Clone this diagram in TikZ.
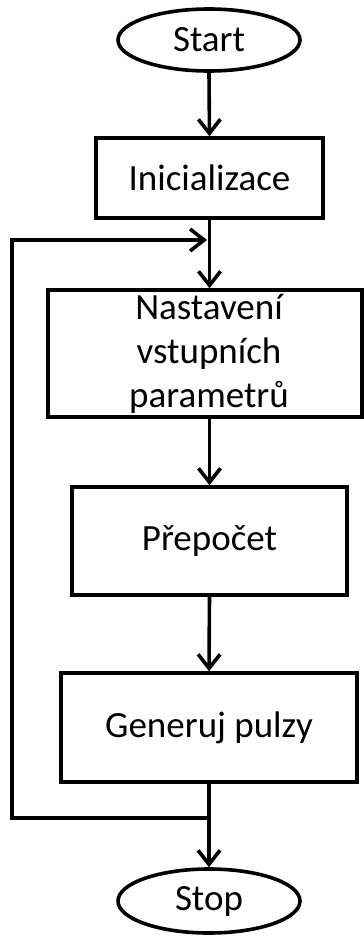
\documentclass[tikz,border=0pt]{standalone}
\usepackage{fontspec}
\setmainfont{Carlito}
\usetikzlibrary{shapes.geometric,arrows.meta}
\begin{document}
\begin{tikzpicture}[x=1pt,y=-1pt,
  flowline/.style={line width=3.6pt},
  arrowline/.style={flowline,-{Straight Barb[length=14pt,width=22pt,line width=3.6pt]}},
  terminal/.style={ellipse,draw,line width=3.6pt,inner sep=0pt,
    minimum width=182pt,minimum height=62pt,
    font=\fontsize{37}{44}\selectfont},
  process/.style={rectangle,draw,line width=3.6pt,inner sep=0pt,align=center,
    font=\fontsize{37}{44}\selectfont}]
  \useasboundingbox (0,0) rectangle (364,937);
  \fill[white] (0,0) rectangle (364,937);

  % nodes of the flow
  \node[terminal] (start) at (209,40) {Start};
  \node[process,minimum width=227pt,minimum height=80pt] (init) at (209.5,178) {Inicializace};
  \coordinate (join) at (209,240);
  \node[process,minimum width=314pt,minimum height=127pt] (nast) at (205,353.5)
    {\hspace*{8pt}Nastavení\\\hspace*{8pt}vstupních\\\hspace*{8pt}parametrů};
  \node[process,minimum width=275pt,minimum height=108pt] (prep) at (209.5,541) {Přepočet};
  \node[process,minimum width=296pt,minimum height=109pt] (gen) at (209,727.5) {Generuj pulzy};
  \coordinate (split) at (209,818);
  \coordinate (lowleft) at (12,818);
  \coordinate (upleft) at (12,240);
  \node[terminal,minimum height=64pt] (stop) at (209,901) {Stop};

  % connectors
  \draw[arrowline] (start.south) -- (init.north);
  \draw[arrowline] (init.south) -- (init.south |- nast.north);
  \draw[arrowline] (nast.south -| prep.north) -- (prep.north);
  \draw[arrowline] (prep.south) -- (gen.north);
  \draw[arrowline] (gen.south) -- (stop.north);
  \draw[arrowline,line join=miter] (split) -- (lowleft) -- (upleft) -- ([xshift=-2pt]join);
\end{tikzpicture}
\end{document}
